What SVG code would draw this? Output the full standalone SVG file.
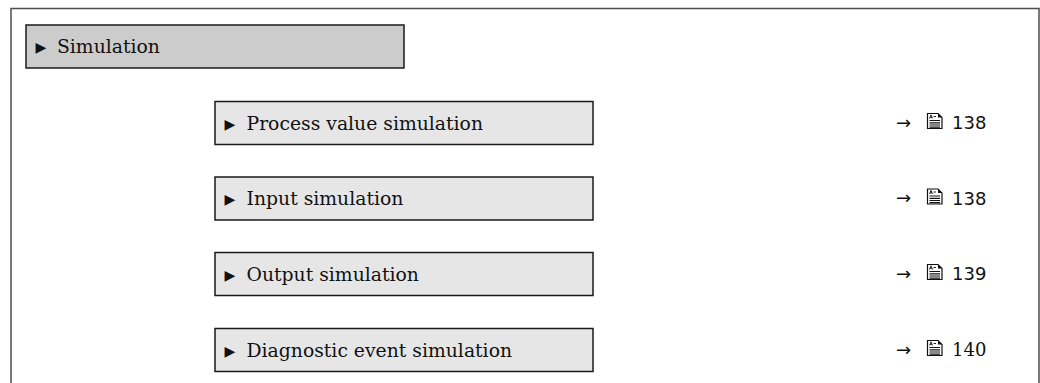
<svg xmlns="http://www.w3.org/2000/svg" width="1040" height="383" viewBox="0 0 1040 383">
<style>
.frame{fill:none;stroke:#4d4d4d;stroke-width:1.5}
.main{fill:#cccccc;stroke:#1a1a1a;stroke-width:1.5}
.sub{fill:#e6e6e6;stroke:#1a1a1a;stroke-width:1.5}
.lbl{font-family:"DejaVu Serif","Liberation Serif",serif;font-size:18.8px;fill:#111}
.tri{font-family:"DejaVu Sans",sans-serif;font-size:14px;fill:#111}
.arr{font-family:"DejaVu Sans",sans-serif;font-size:18px;fill:#111}
.num{font-family:"DejaVu Sans",sans-serif;font-size:18px;fill:#111}
.nums{font-family:"DejaVu Serif",serif;font-size:18px;fill:#111}
.doc{fill:#fff;stroke:#111;stroke-width:1.2}
.dl{stroke:#111;stroke-width:1.2}
</style>
<defs>
<g id="docicon">
<path class="doc" d="M0.5,0.5 H11 L15,4.5 V15.5 H0.5 Z"/>
<path d="M11,0.5 V4.5 H15 Z" fill="#111"/>
<path d="M2.5,5.5 L4,1.8 L5.5,5.5 M3,4.3 H5 M6.5,3.5 H9" stroke="#111" stroke-width="0.9" fill="none"/>
<path class="dl" d="M2.5,7.5 H13 M2.5,9.8 H13 M2.5,12 H13 M2.5,14.1 H13"/>
</g>
</defs>
<g id="frame">
<path class="frame" d="M11,383 V8.5 H1039 V383"/>
</g>
<g id="connectors"></g>
<g id="simulation">
<rect class="main" x="26" y="25" width="378" height="43"/>
<text class="tri" x="35.5" y="52">▶</text>
<text class="lbl" x="57" y="53">Simulation</text>
</g>
<g id="process-value-simulation">
<rect class="sub" x="215" y="101.5" width="378" height="43"/>
<text class="tri" x="224.5" y="128.5">▶</text>
<text class="lbl" x="246.5" y="129.5">Process value simulation</text>
<text class="arr" x="896" y="128.5">→</text>
<use href="#docicon" x="927" y="113"/>
<text class="num" x="952" y="129">138</text>
</g>
<g id="input-simulation">
<rect class="sub" x="215" y="177" width="378" height="43"/>
<text class="tri" x="224.5" y="204">▶</text>
<text class="lbl" x="246.5" y="205">Input simulation</text>
<text class="arr" x="896" y="204">→</text>
<use href="#docicon" x="927" y="188.5"/>
<text class="num" x="952" y="204.5">138</text>
</g>
<g id="output-simulation">
<rect class="sub" x="215" y="252.5" width="378" height="43"/>
<text class="tri" x="224.5" y="279.5">▶</text>
<text class="lbl" x="246.5" y="280.5">Output simulation</text>
<text class="arr" x="896" y="279.5">→</text>
<use href="#docicon" x="927" y="264"/>
<text class="num" x="952" y="280">139</text>
</g>
<g id="diagnostic-event-simulation">
<rect class="sub" x="215" y="328.5" width="378" height="43"/>
<text class="tri" x="224.5" y="355.5">▶</text>
<text class="lbl" x="246.5" y="356.5">Diagnostic event simulation</text>
<text class="arr" x="896" y="355.5">→</text>
<use href="#docicon" x="927" y="340"/>
<text class="nums" x="952" y="356">140</text>
</g>
</svg>
